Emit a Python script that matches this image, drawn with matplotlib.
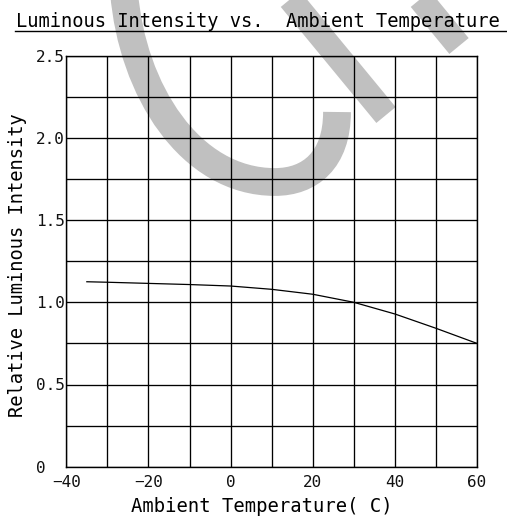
import numpy as np
import matplotlib
matplotlib.use("Agg")
import matplotlib.pyplot as plt
from matplotlib.path import Path
from matplotlib.patches import PathPatch
from matplotlib.ticker import MultipleLocator, FixedLocator, FixedFormatter

# ---- data ----
temps = [-35, -30, -20, -10, 0, 10, 20, 30, 40, 50, 60]
intensity = [1.125, 1.122, 1.115, 1.108, 1.099, 1.079, 1.049, 1.0, 0.929, 0.842, 0.75]
x_ticks = [-40, -20, 0, 20, 40, 60]
x_ticklabels = ["\u221240", "\u221220", "0", "20", "40", "60"]
y_ticks = [0, 0.5, 1.0, 1.5, 2.0, 2.5]
y_ticklabels = ["0", "0.5", "1.0", "1.5", "2.0", "2.5"]
title = "Luminous Intensity vs.  Ambient Temperature"
xlabel = "Ambient Temperature( C)"
ylabel = "Relative Luminous Intensity"

FONT = "DejaVu Sans Mono"
W, H = 507, 518
fig = plt.figure(figsize=(W / 100, H / 100), dpi=100)
fig.patch.set_facecolor("white")

# ---- watermark (decorative, behind everything) ----
bg = fig.add_axes([0, 0, 1, 1], zorder=0)
bg.set_xlim(0, W)
bg.set_ylim(H, 0)
bg.axis("off")
wm = "#c0c0c0"
verts = [(124, -8), (132, 90), (190, 182), (275, 182),
         (310, 182), (337, 160), (337, 112)]
codes = [Path.MOVETO, Path.CURVE4, Path.CURVE4, Path.CURVE4,
         Path.CURVE4, Path.CURVE4, Path.CURVE4]
bg.add_patch(PathPatch(Path(verts, codes), facecolor="none", edgecolor=wm,
                       lw=20, capstyle="butt"))
bg.plot([283, 386], [-10, 115], color=wm, lw=18, solid_capstyle="butt")
bg.plot([413, 459], [-10, 46], color=wm, lw=18, solid_capstyle="butt")

# ---- main axes ----
left, right, top, bottom = 66.3, 477.0, 55.7, 466.7
ax = fig.add_axes([left / W, 1 - bottom / H, (right - left) / W, (bottom - top) / H], zorder=1)
ax.set_facecolor("none")
ax.set_xlim(-40, 60)
ax.set_ylim(0, 2.5)

ax.xaxis.set_major_locator(FixedLocator(x_ticks))
ax.xaxis.set_major_formatter(FixedFormatter(x_ticklabels))
ax.xaxis.set_minor_locator(MultipleLocator(10))
ax.yaxis.set_major_locator(FixedLocator(y_ticks))
ax.yaxis.set_major_formatter(FixedFormatter(y_ticklabels))
ax.yaxis.set_minor_locator(MultipleLocator(0.25))

ax.grid(True, which="both", color="black", lw=0.95)
ax.set_axisbelow(True)
for s in ax.spines.values():
    s.set_color("black")
    s.set_linewidth(1.0)

ax.tick_params(which="both", length=0)
ax.tick_params(axis="x", pad=6, labelsize=11.5)
ax.tick_params(axis="y", pad=21.6, labelsize=11.5)
for lab in ax.get_xticklabels() + ax.get_yticklabels():
    lab.set_fontfamily(FONT)
    lab.set_color("#111111")
for lab in ax.get_yticklabels():
    lab.set_horizontalalignment("left")

ax.plot(temps, intensity, color="black", lw=0.9, zorder=3)

# ---- texts ----
fig.text(258 / W, 1 - 27 / H, title, ha="center", va="baseline",
         fontsize=13.5, family=FONT, color="black")
fig.add_artist(plt.Line2D([15 / W, 1.0], [1 - 31 / H, 1 - 31 / H],
                          color="black", lw=1.0, transform=fig.transFigure))
fig.text(262 / W, 1 - 512 / H, xlabel, ha="center", va="baseline",
         fontsize=13.6, family=FONT, color="black")
fig.text(18 / W, 1 - 265 / H, ylabel, ha="center", va="center", rotation=90,
         fontsize=13.5, family=FONT, color="black")

fig.savefig("out.png", dpi=100, facecolor="white")
